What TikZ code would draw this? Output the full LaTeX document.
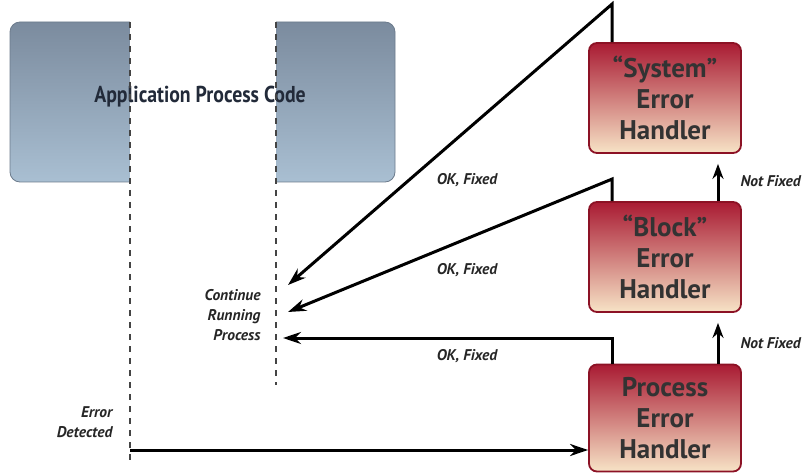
\documentclass[tikz,border=0pt]{standalone}
\usepackage{fontspec}
\setmainfont{PT Sans}
\newfontfamily\condensed[FakeStretch=0.86,Ligatures=TeX]{PT Sans}
\usetikzlibrary{positioning,arrows.meta}
\definecolor{appblue}{HTML}{7B8B9E}
\definecolor{applight}{HTML}{A9BFD2}
\definecolor{appedge}{HTML}{6C7B8C}
\definecolor{apptext}{HTML}{222A39}
\definecolor{errred}{HTML}{A91B33}
\definecolor{errbeige}{HTML}{F7E3C6}
\definecolor{erredge}{HTML}{8C1225}
\definecolor{dashgrey}{HTML}{444444}

\begin{document}
\begin{tikzpicture}[x=1pt,y=-1pt,>={Stealth[length=18pt,width=12pt]}]
	\tikzstyle{handler}=[draw=erredge,line width=1.8pt,rounded corners=8pt,top color=errred,bottom color=errbeige,minimum width=152pt,minimum height=110pt,align=center,text=black!80,font=\bfseries\fontsize{27}{31}\selectfont]
	\tikzstyle{flowlabel}=[font=\bfseries\itshape\fontsize{15.5}{20}\selectfont,text=black!85]
	\tikzstyle{flow}=[line width=3pt]
	\tikzstyle{escalate}=[line width=3pt,->,>={Stealth[length=15pt,width=11pt]}]
	\tikzstyle{gapline}=[dashgrey,line width=1.8pt,dash pattern=on 6pt off 6pt]

	\useasboundingbox (0,0) rectangle (809,476);

	% application code, cut open where the error is handled
	\shade[top color=appblue,bottom color=applight,draw=appedge,line width=0.8pt,rounded corners=10pt] (10,22) rectangle (395,182);
	\fill[white] (130,18) rectangle (276,186);
	\node[font=\condensed\bfseries\fontsize{23}{27}\selectfont,text=apptext](app_code) at (200,97){Application Process Code};

	\coordinate (gap_left_top) at (130,22);
	\coordinate (gap_left_end) at (130,462);
	\coordinate (gap_right_top) at (276,22);
	\coordinate (gap_right_end) at (276,385);
	\draw[gapline] (gap_left_top) -- (gap_left_end);
	\draw[gapline] (gap_right_top) -- (gap_right_end);

	% handlers
	\node[handler](sys_handler) at (665,98){“System”\\Error\\Handler};
	\node[handler](block_handler) at (665,257){“Block”\\Error\\Handler};
	\node[handler,minimum height=107pt](proc_handler) at (665,418){Process\\Error\\Handler};

	% labels
	\node[flowlabel,align=right,anchor=east](continue) at (264,315){Continue\\Running\\Process};
	\node[flowlabel,align=right,anchor=east](detected) at (116,422){Error\\Detected};
	\node[flowlabel](fixed_sys) at (467,180){OK, Fixed};
	\node[flowlabel](fixed_block) at (467,270){OK, Fixed};
	\node[flowlabel](fixed_proc) at (467,356){OK, Fixed};
	\node[flowlabel,anchor=west](notfixed_block) at (737,181){Not Fixed};
	\node[flowlabel,anchor=west](notfixed_proc) at (737,343){Not Fixed};

	\coordinate (back_sys) at (288,285);
	\coordinate (back_block) at (288,312);
	\coordinate (back_proc) at (283,338);
	\coordinate (err_start) at (130,450);

	\draw[flow,->] (err_start) -- (proc_handler.west|-err_start);

	\draw[flow,->] ([xshift=-53pt]proc_handler.north) |- (back_proc);
	\draw[flow,->] ([xshift=-53pt]block_handler.north) -- ++(0,-22) -- (back_block);
	\draw[flow,->] ([xshift=-53pt]sys_handler.north) -- ++(0,-38) -- (back_sys);

	\draw[escalate] ([xshift=53pt]proc_handler.north) -- ([xshift=53pt,yshift=-10pt]block_handler.south);
	\draw[escalate] ([xshift=53pt]block_handler.north) -- ([xshift=53pt,yshift=-10pt]sys_handler.south);
\end{tikzpicture}
\end{document}
